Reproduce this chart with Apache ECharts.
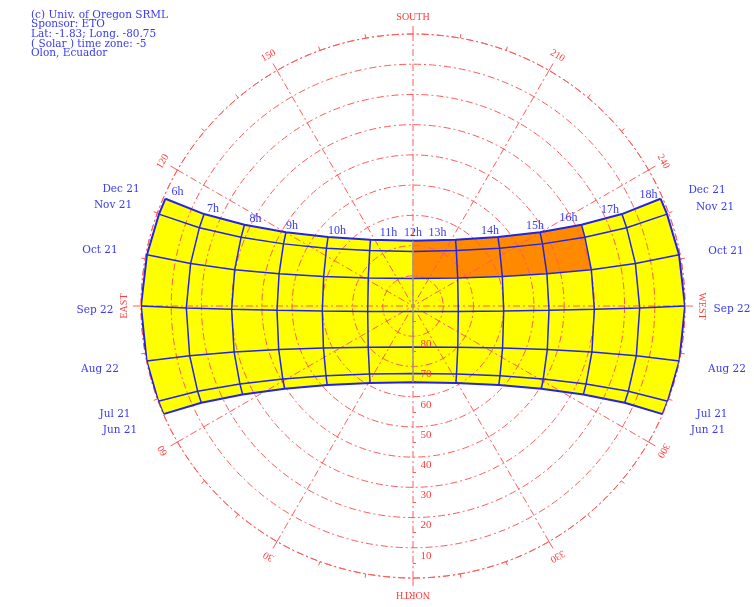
<!DOCTYPE html>
<html><head><meta charset="utf-8">
<script src="https://cdn.jsdelivr.net/npm/echarts@6/dist/echarts.min.js"></script>
<style>html,body{margin:0;padding:0;background:#fff}#c{width:754px;height:607px}</style>
</head><body><div id="c"></div>
<script>
// ---- data (solar altitude / azimuth in degrees, solar time) ----
const hours = ['6h','7h','8h','9h','10h','11h','12h','13h','14h','15h','16h','17h','18h'];
const dates = ['Dec 21','Nov 21','Oct 21','Sep 22','Aug 22','Jul 21','Jun 21'];

const altDec21 = [0.73,14.48,28.11,41.39,53.79,63.95,68.39,63.95,53.79,41.39,28.11,14.48,0.73];
const azDec21  = [113.43,113.75,115.73,120.15,129.05,147.26,180,212.74,230.95,239.85,244.27,246.25,246.57];
const altNov21 = [0.62,14.72,28.74,42.48,55.57,66.73,71.93,66.73,55.57,42.48,28.74,14.72,0.62];
const azNov21  = [109.89,110.10,111.77,115.63,123.75,141.97,180,218.03,236.25,244.37,248.23,249.90,250.11];
const altOct21 = [0.35,15.08,29.79,44.43,58.88,72.56,80.93,72.56,58.88,44.43,29.79,15.08,0.35];
const azOct21  = [100.90,100.80,101.52,103.51,108.25,121.98,180,238.02,251.75,256.49,258.48,259.20,259.10];
const altSep22 = [0,14.99,29.98,44.97,59.95,74.90,88.17,74.90,59.95,44.97,29.98,14.99,0];
const azSep22  = [90,89.51,88.94,88.17,86.83,83.20,0,276.80,273.17,271.83,271.06,270.49,270];
const altAug22 = [0,14.29,28.88,43.28,57.26,69.87,76.47,69.87,57.26,43.28,28.88,14.29,0];
const azAug22  = [78.31,77.44,75.56,72.02,64.86,47.42,0,312.58,295.14,287.98,284.44,282.56,281.69];
const altJul21 = [0,13.36,27.19,40.60,53.09,63.28,67.67,63.28,53.09,40.60,27.19,13.36,0];
const azJul21  = [69.51,68.42,65.77,60.71,51.25,32.60,0,327.40,308.75,299.29,294.23,291.58,290.49];
const altJun21 = [0,12.98,26.48,39.47,51.40,60.82,64.73,60.82,51.40,39.47,26.48,12.98,0];
const azJun21  = [66.57,65.43,62.57,57.19,47.33,29.13,0,330.87,312.67,302.81,297.43,294.57,293.43];

// shaded cells: [date band index, hour column index]
const shadedCells = [[0,6],[0,7],[0,8],[0,9],[1,6],[1,7],[1,8],[1,9]];

const altitudeTicks = [10,20,30,40,50,60,70,80];
const azimuthTicks  = [0,30,60,90,120,150,180,210,240,270,300,330];
const azimuthLabels = ['NORTH','30','60','EAST','120','150','SOUTH','210','240','WEST','300','330'];
const infoLines = ['(c) Univ. of Oregon SRML','Sponsor: ETO','Lat: -1.83; Long. -80.75','( Solar ) time zone: -5','Olon, Ecuador'];

const altByDate = [altDec21,altNov21,altOct21,altSep22,altAug22,altJul21,altJun21];
const azByDate  = [azDec21,azNov21,azOct21,azSep22,azAug22,azJul21,azJun21];

// ---- layout / style ----
const RED = '#ff5a5a', RED_TXT = '#ff3b3b', BLUE = '#2424e0', BLUE_TXT = '#3a3af0';
const YELLOW = '#ffff00', ORANGE = '#ff8a00';
const DASH = [7,3,2,3];
const SERIF = '"Liberation Serif", "DejaVu Serif", serif';
const DSERIF = '"DejaVu Serif", serif';
const hourLabelOffsets = [[12,-7],[9,-5],[11,-6],[6,-6],[9,-6],[18,-7],[0,-8],[-18,-7],[-8,-6],[-5,-6],[-13,-7],[-12,-4],[-12,-4]];
const dateLabelLeft  = [[121,189],[113,205],[100,250],[95,310],[100,369],[115,414],[120,430]];
const dateLabelRight = [[707,190],[715,207],[726,251],[732,309],[727,369],[712,414],[708,430]];
const compassRadiusValue = -5.6;

const series = [];
const cells = [];
for (let d = 0; d < dates.length - 1; d++) for (let h = 0; h < hours.length - 1; h++) cells.push([d, h]);

series.push({
  type: 'custom', coordinateSystem: 'polar', z: 1, silent: true,
  data: cells.map(c => [c[0], c[1]]),
  renderItem(params, api) {
    const [d, h] = cells[params.dataIndex];
    const pts = [[d,h],[d,h+1],[d+1,h+1],[d+1,h]].map(([i,j]) => api.coord([altByDate[i][j], azByDate[i][j]]));
    const shaded = shadedCells.some(c => c[0] === d && c[1] === h);
    const col = shaded ? ORANGE : YELLOW;
    return { type: 'polygon', shape: { points: pts }, style: { fill: col, stroke: col, lineWidth: 0.6 } };
  }
});

dates.forEach((name, i) => {
  series.push({
    type: 'line', coordinateSystem: 'polar', name, silent: true, symbol: 'none', z: 6,
    data: hours.map((_, j) => [altByDate[i][j], azByDate[i][j]]),
    lineStyle: { color: BLUE, width: (i === 0 || i === dates.length - 1) ? 2 : 1.5 }
  });
});
hours.forEach((name, j) => {
  series.push({
    type: 'line', coordinateSystem: 'polar', name, silent: true, symbol: 'none', z: 6,
    data: dates.map((_, i) => [altByDate[i][j], azByDate[i][j]]),
    lineStyle: { color: j === 6 ? '#9a9a9a' : BLUE, width: (j === 0 || j === hours.length - 1) ? 2 : 1.5 }
  });
});

// hour labels anchored at Dec 21 points
series.push({
  type: 'custom', coordinateSystem: 'polar', z: 8, silent: true,
  data: hours.map((_, j) => [altByDate[0][j], azByDate[0][j]]),
  renderItem(params, api) {
    const p = api.coord([api.value(0), api.value(1)]);
    const o = hourLabelOffsets[params.dataIndex];
    return { type: 'text', x: p[0] + o[0], y: p[1] + o[1],
      style: { text: hours[params.dataIndex], fill: BLUE_TXT, font: '12px ' + SERIF, align: 'center', verticalAlign: 'middle' } };
  }
});

// azimuth / compass labels
series.push({
  type: 'custom', coordinateSystem: 'polar', z: 8, silent: true,
  data: azimuthTicks.map(a => [compassRadiusValue, a]),
  renderItem(params, api) {
    const p = api.coord([api.value(0), api.value(1)]);
    const a = azimuthTicks[params.dataIndex];
    return { type: 'text', x: p[0], y: p[1], rotation: (180 - a) * Math.PI / 180,
      style: { text: azimuthLabels[params.dataIndex], fill: RED_TXT, font: '10px ' + SERIF, align: 'center', verticalAlign: 'middle' } };
  }
});

// altitude labels along the north ray
series.push({
  type: 'custom', coordinateSystem: 'polar', z: 8, silent: true,
  data: altitudeTicks.map(v => [v, 0]),
  renderItem(params, api) {
    const p = api.coord([api.value(0), api.value(1)]);
    return { type: 'text', x: p[0] + 13, y: p[1] + 8,
      style: { text: String(altitudeTicks[params.dataIndex]), fill: RED_TXT, font: '11px ' + SERIF, align: 'center', verticalAlign: 'middle' } };
  }
});

const graphics = [];
infoLines.forEach((t, i) => graphics.push({ type: 'text', x: 31, y: 15 + i * 9.6, z: 10,
  style: { text: t, fill: BLUE_TXT, font: '10.5px ' + DSERIF, align: 'left', verticalAlign: 'middle' } }));
dates.forEach((t, i) => {
  graphics.push({ type: 'text', x: dateLabelLeft[i][0], y: dateLabelLeft[i][1], z: 10,
    style: { text: t, fill: BLUE_TXT, font: '10.5px ' + DSERIF, align: 'center', verticalAlign: 'middle' } });
  graphics.push({ type: 'text', x: dateLabelRight[i][0], y: dateLabelRight[i][1], z: 10,
    style: { text: t, fill: BLUE_TXT, font: '10.5px ' + DSERIF, align: 'center', verticalAlign: 'middle' } });
});

const chart = echarts.init(document.getElementById('c'));
chart.setOption({
  animation: false,
  backgroundColor: '#ffffff',
  polar: { center: [413, 306], radius: 272 },
  angleAxis: {
    type: 'value', min: 0, max: 360, interval: 30, startAngle: 270, clockwise: true, z: 5,
    axisLine: { show: true, lineStyle: { color: RED, width: 1, type: DASH } },
    axisTick: { show: true, length: 8, lineStyle: { color: RED, width: 1 } },
    minorTick: { show: true, splitNumber: 3, length: 4, lineStyle: { color: RED, width: 1 } },
    axisLabel: { show: false },
    splitLine: { show: true, lineStyle: { color: RED, width: 1, type: DASH } }
  },
  radiusAxis: {
    type: 'value', min: 0, max: 90, interval: 10, inverse: true, z: 5,
    axisLine: { show: false }, axisTick: { show: false }, axisLabel: { show: false },
    minorTick: { show: true, splitNumber: 2, length: 3, lineStyle: { color: RED, width: 1 } },
    splitLine: { show: true, lineStyle: { color: RED, width: 1, type: DASH } }
  },
  series,
  graphic: graphics
});
</script></body></html>
